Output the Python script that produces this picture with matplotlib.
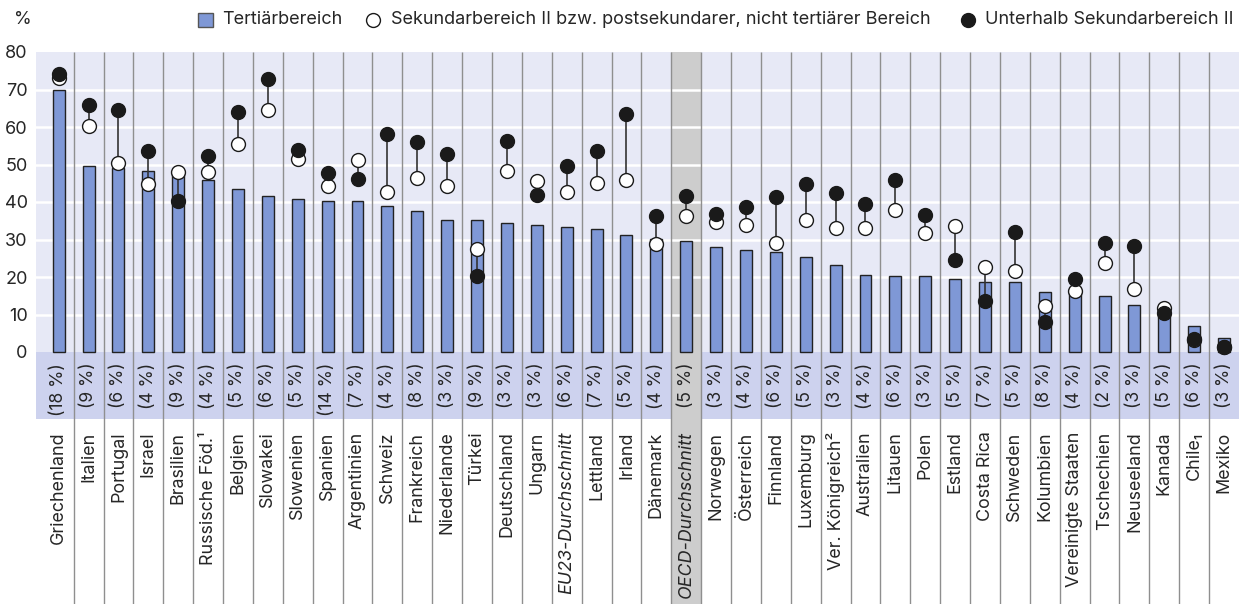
import numpy as np
import matplotlib
matplotlib.use("Agg")
import matplotlib.pyplot as plt
from matplotlib.patches import Rectangle
from matplotlib.lines import Line2D

plt.rcParams['font.family'] = ['Inter', 'DejaVu Sans']

# Daten
laender = ['Griechenland', 'Italien', 'Portugal', 'Israel', 'Brasilien', 'Russische Föd.¹',
           'Belgien', 'Slowakei', 'Slowenien', 'Spanien', 'Argentinien', 'Schweiz',
           'Frankreich', 'Niederlande', 'Türkei', 'Deutschland', 'Ungarn', 'EU23-Durchschnitt',
           'Lettland', 'Irland', 'Dänemark', 'OECD-Durchschnitt', 'Norwegen', 'Österreich',
           'Finnland', 'Luxemburg', 'Ver. Königreich²', 'Australien', 'Litauen', 'Polen',
           'Estland', 'Costa Rica', 'Schweden', 'Kolumbien', 'Vereinigte Staaten', 'Tschechien',
           'Neuseeland', 'Kanada', 'Chile₁', 'Mexiko']
tertiaer = [69.9, 49.7, 49.0, 48.3, 47.5, 45.9, 43.5, 41.6, 40.8, 40.3, 40.3, 39.0,
            37.5, 35.1, 35.1, 34.5, 34.0, 33.3, 32.9, 31.3, 30.2, 29.5, 27.9, 27.2,
            26.6, 25.3, 23.3, 20.6, 20.4, 20.2, 19.6, 18.8, 18.6, 16.1, 16.0, 14.9,
            12.5, 11.0, 6.9, 3.7]
sek2 = [73.2, 60.3, 50.4, 44.8, 47.9, 48.0, 55.5, 64.4, 51.4, 44.2, 51.1, 42.7,
        46.5, 44.2, 27.6, 48.4, 45.7, 42.8, 45.1, 46.0, 28.9, 36.2, 34.6, 33.9,
        29.1, 35.2, 33.1, 33.1, 38.0, 31.7, 33.5, 22.8, 21.7, 12.3, 16.3, 23.7,
        16.9, 11.8, 3.2, 1.4]
unter = [74.1, 65.8, 64.4, 53.7, 40.3, 52.4, 64.0, 72.8, 54.0, 47.8, 46.2, 58.2,
         55.9, 52.9, 20.4, 56.2, 41.8, 49.5, 53.5, 63.5, 36.3, 41.7, 36.8, 38.8,
         41.4, 44.8, 42.5, 39.6, 45.9, 36.5, 24.6, 13.7, 32.0, 8.0, 19.4, 29.0,
         28.2, 10.5, 3.6, 1.4]
anteil = [18, 9, 6, 4, 9, 4, 5, 6, 5, 14, 7, 4, 8, 3, 9, 3, 3, 6, 7, 5, 4, 5, 3, 4,
          6, 5, 3, 4, 6, 3, 5, 7, 5, 8, 4, 2, 3, 5, 6, 3]

W, H = 1239, 604
blau = '#7f98d6'
schwarz = '#1a1a1a'
text_farbe = '#262626'

fig = plt.figure(figsize=(W / 100, H / 100), dpi=100)
ax = fig.add_axes([36 / W, 1 - 419 / H, 1 - 36 / W, (419 - 52) / H])

x = np.arange(len(laender))
y_unten = -(419 - 352) / 3.75
y_fig_unten = -(H - 352) / 3.75

ax.set_xlim(-0.76, len(laender) - 0.5)
ax.set_ylim(y_unten, 80)
ax.set_facecolor('#e7e9f6')
for s in ax.spines.values():
    s.set_visible(False)

# Band mit den Anteilen
ax.axhspan(y_unten, 0, color='#cdd2ee', zorder=0.5, lw=0)
# OECD-Spalte grau
i_oecd = laender.index('OECD-Durchschnitt')
ax.add_patch(Rectangle((i_oecd - 0.5, y_fig_unten), 1, 80 - y_fig_unten,
                       facecolor='#cdcdcd', edgecolor='none', zorder=0.8, clip_on=False))
for v in range(10, 80, 10):
    ax.axhline(v, color='white', lw=1.8, zorder=1)
ax.vlines(x[:-1] + 0.5, y_fig_unten, 80, color='#8f8f8f', lw=1, zorder=1.5, clip_on=False)

ax.bar(x, tertiaer, width=0.4, color=blau, edgecolor='#222222', lw=1, zorder=2)
ax.vlines(x, sek2, unter, color='#333333', lw=1.2, zorder=3)
ax.plot(x, sek2, 'o', ls='none', ms=10, mfc='white', mec=schwarz, mew=1, zorder=4)
ax.plot(x, unter, 'o', ls='none', ms=10, mfc=schwarz, mec=schwarz, mew=1, zorder=5)

for i, a in enumerate(anteil):
    ax.text(i, -2.9, f'({a} %)', rotation=90, ha='center', va='top', fontsize=12.6,
            color=text_farbe, zorder=6)

ax.set_xticks(x)
ax.set_xticklabels(laender, rotation=90, fontsize=12.9, color=text_farbe, va='top')
for i, lab in enumerate(ax.get_xticklabels()):
    if 'Durchschnitt' in laender[i]:
        lab.set_style('italic')
ax.tick_params(axis='x', length=0, pad=9)
ax.set_yticks(range(0, 81, 10))
ax.tick_params(axis='y', length=0, pad=6, labelsize=13, labelcolor=text_farbe)

fig.text(23 / W, 1 - 20 / H, '%', ha='center', va='center', fontsize=13, color=text_farbe)

# Legende
fig.patches.append(Rectangle((198 / W, 1 - 27 / H), 15 / W, 14 / H, transform=fig.transFigure,
                             facecolor=blau, edgecolor='#555555', lw=1))
fig.text(222 / W, 1 - 20 / H, 'Tertiärbereich', ha='left', va='center', fontsize=13,
         color=text_farbe)
fig.add_artist(Line2D([373 / W], [1 - 20 / H], marker='o', ms=10, mfc='white', mec=schwarz,
                      mew=1, transform=fig.transFigure))
fig.text(391 / W, 1 - 20 / H, 'Sekundarbereich II bzw. postsekundarer, nicht tertiärer Bereich',
         ha='left', va='center', fontsize=13, color=text_farbe)
fig.add_artist(Line2D([968 / W], [1 - 20 / H], marker='o', ms=10, mfc=schwarz, mec=schwarz,
                      transform=fig.transFigure))
fig.text(985 / W, 1 - 20 / H, 'Unterhalb Sekundarbereich II', ha='left', va='center',
         fontsize=13, color=text_farbe)

fig.savefig('out.png', dpi=100)
